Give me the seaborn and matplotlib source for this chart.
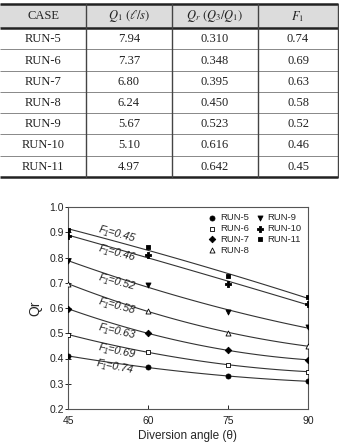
import numpy as np
import pandas as pd
import matplotlib
matplotlib.use("Agg")
import matplotlib.pyplot as plt
import seaborn as sns
from matplotlib.patches import Rectangle

# ---------------- data ----------------
cases = ["RUN-5", "RUN-6", "RUN-7", "RUN-8", "RUN-9", "RUN-10", "RUN-11"]
q1_vals = ["7.94", "7.37", "6.80", "6.24", "5.67", "5.10", "4.97"]
qr_vals = ["0.310", "0.348", "0.395", "0.450", "0.523", "0.616", "0.642"]
f1_vals = ["0.74", "0.69", "0.63", "0.58", "0.52", "0.46", "0.45"]
headers = ["CASE", r"$Q_1\ (\ell/s)$", r"$Q_r\ (Q_3/Q_1)$", r"$F_1$"]

angles = [45, 60, 75, 90]
qr_run5 = [0.410, 0.365, 0.330, 0.310]
qr_run6 = [0.495, 0.425, 0.375, 0.348]
qr_run7 = [0.597, 0.500, 0.432, 0.395]
qr_run8 = [0.695, 0.590, 0.500, 0.450]
qr_run9 = [0.785, 0.690, 0.585, 0.523]
qr_run10 = [0.885, 0.810, 0.695, 0.616]
qr_run11 = [0.910, 0.840, 0.725, 0.642]
f1_labels = ["0.74", "0.69", "0.63", "0.58", "0.52", "0.46", "0.45"]

series = [qr_run5, qr_run6, qr_run7, qr_run8, qr_run9, qr_run10, qr_run11]
rows = []
for c, s in zip(cases, series):
    for a, v in zip(angles, s):
        rows.append({"run": c, "angle": a, "qr": v})
df = pd.DataFrame(rows)

# ---------------- style ----------------
sns.set_theme(style="white")
plt.rcParams["font.family"] = ["Liberation Sans", "DejaVu Sans"]
plt.rcParams["mathtext.fontset"] = "stix"

W, H = 339, 446
fig = plt.figure(figsize=(W / 100, H / 100), dpi=100)
fig.patch.set_facecolor("white")

# ---------------- table ----------------
axt = fig.add_axes([0, 0, 1, 1])
axt.set_xlim(0, W)
axt.set_ylim(H, 0)
axt.axis("off")

col_edges = [0, 86, 172, 258, 338]
row_edges = [4, 27.5, 49, 71, 92, 113, 134, 156, 177]
axt.add_patch(Rectangle((0, row_edges[0]), 338, row_edges[1] - row_edges[0],
                        facecolor="#dcdcdc", edgecolor="none", zorder=0))
for i, y in enumerate(row_edges):
    if i in (0, 1, len(row_edges) - 1):
        axt.plot([0, 338], [y, y], color="#222222", lw=1.8, solid_capstyle="butt")
    else:
        axt.plot([0, 338], [y, y], color="#888888", lw=0.7, solid_capstyle="butt")
for x in col_edges[1:]:
    axt.plot([x, x], [row_edges[0], row_edges[-1]], color="#444444", lw=1.0)

col_c = [(col_edges[i] + col_edges[i + 1]) / 2 for i in range(4)]
serif = ["Liberation Serif", "DejaVu Serif"]
for j, h in enumerate(headers):
    axt.text(col_c[j], (row_edges[0] + row_edges[1]) / 2 + 0.5, h, ha="center", va="center",
             fontsize=9, family=serif, color="#222222")
for i in range(len(cases)):
    yc = (row_edges[i + 1] + row_edges[i + 2]) / 2 + 0.5
    for j, v in enumerate([cases[i], q1_vals[i], qr_vals[i], f1_vals[i]]):
        axt.text(col_c[j], yc, v, ha="center", va="center", fontsize=9,
                 family=serif, color="#222222")

# ---------------- chart ----------------
x0, x1, yb, yt = 68, 308, 409, 207
ax = fig.add_axes([x0 / W, (H - yb) / H, (x1 - x0) / W, (yb - yt) / H])

markers = {"RUN-5": ("o", True), "RUN-6": ("s", False), "RUN-7": ("D", True),
           "RUN-8": ("^", False), "RUN-9": ("v", True), "RUN-10": ("P", True),
           "RUN-11": ("s", True)}
sizes = {"RUN-5": 13, "RUN-6": 11, "RUN-7": 11, "RUN-8": 13, "RUN-9": 13,
         "RUN-10": 15, "RUN-11": 12}

for c in cases:
    d = df[df["run"] == c]
    sns.regplot(data=d, x="angle", y="qr", order=2, ci=None, scatter=False,
                line_kws={"color": "#333333", "lw": 0.8}, ax=ax)
for c in cases:
    d = df[df["run"] == c]
    m, filled = markers[c]
    sns.scatterplot(data=d, x="angle", y="qr", marker=m, s=sizes[c],
                    facecolor="black" if filled else "white", edgecolor="black",
                    linewidth=0.6, label=c, ax=ax, zorder=5)

ax.set_xlim(45, 90)
ax.set_ylim(0.2, 1.0)
ax.set_xticks(angles)
ax.set_yticks(np.arange(0.2, 1.01, 0.1))
ax.set_yticklabels([f"{v:.1f}" for v in np.arange(0.2, 1.01, 0.1)])
ax.tick_params(axis="y", direction="inout", length=4, width=0.7, labelsize=7.5, pad=1)
ax.tick_params(axis="x", direction="in", length=3, width=0.7, labelsize=7.5, pad=5)
ax.tick_params(left=True, bottom=True, labelcolor="#222222")
for s in ax.spines.values():
    s.set_color("#555555")
    s.set_linewidth(0.8)
    s.set_visible(True)
ax.set_xlabel("Diversion angle (θ)", fontsize=8.5, labelpad=3)
ax.set_ylabel("Qr", fontsize=10, labelpad=5)

label_pos = [(53.8, 0.366), (54.2, 0.429), (54.2, 0.507), (54.2, 0.606),
             (54.2, 0.704), (54.2, 0.819), (54.2, 0.894)]
label_rot = [-11, -12, -13, -15, -15, -15, -15]
for f, (lx, ly), r in zip(f1_labels, label_pos, label_rot):
    ax.text(lx, ly, "F₁=" + f, fontsize=7.8, style="italic", ha="center", va="center",
            rotation=r, family=["Liberation Sans", "DejaVu Sans"], color="#222222")

ax.legend(ncol=2, loc="upper right", bbox_to_anchor=(1.0, 1.0), frameon=False,
          fontsize=6.8, handletextpad=0.2, columnspacing=0.6, labelspacing=0.2,
          borderaxespad=0.25, handlelength=1.2)

fig.savefig("out.png", dpi=100, facecolor="white")
